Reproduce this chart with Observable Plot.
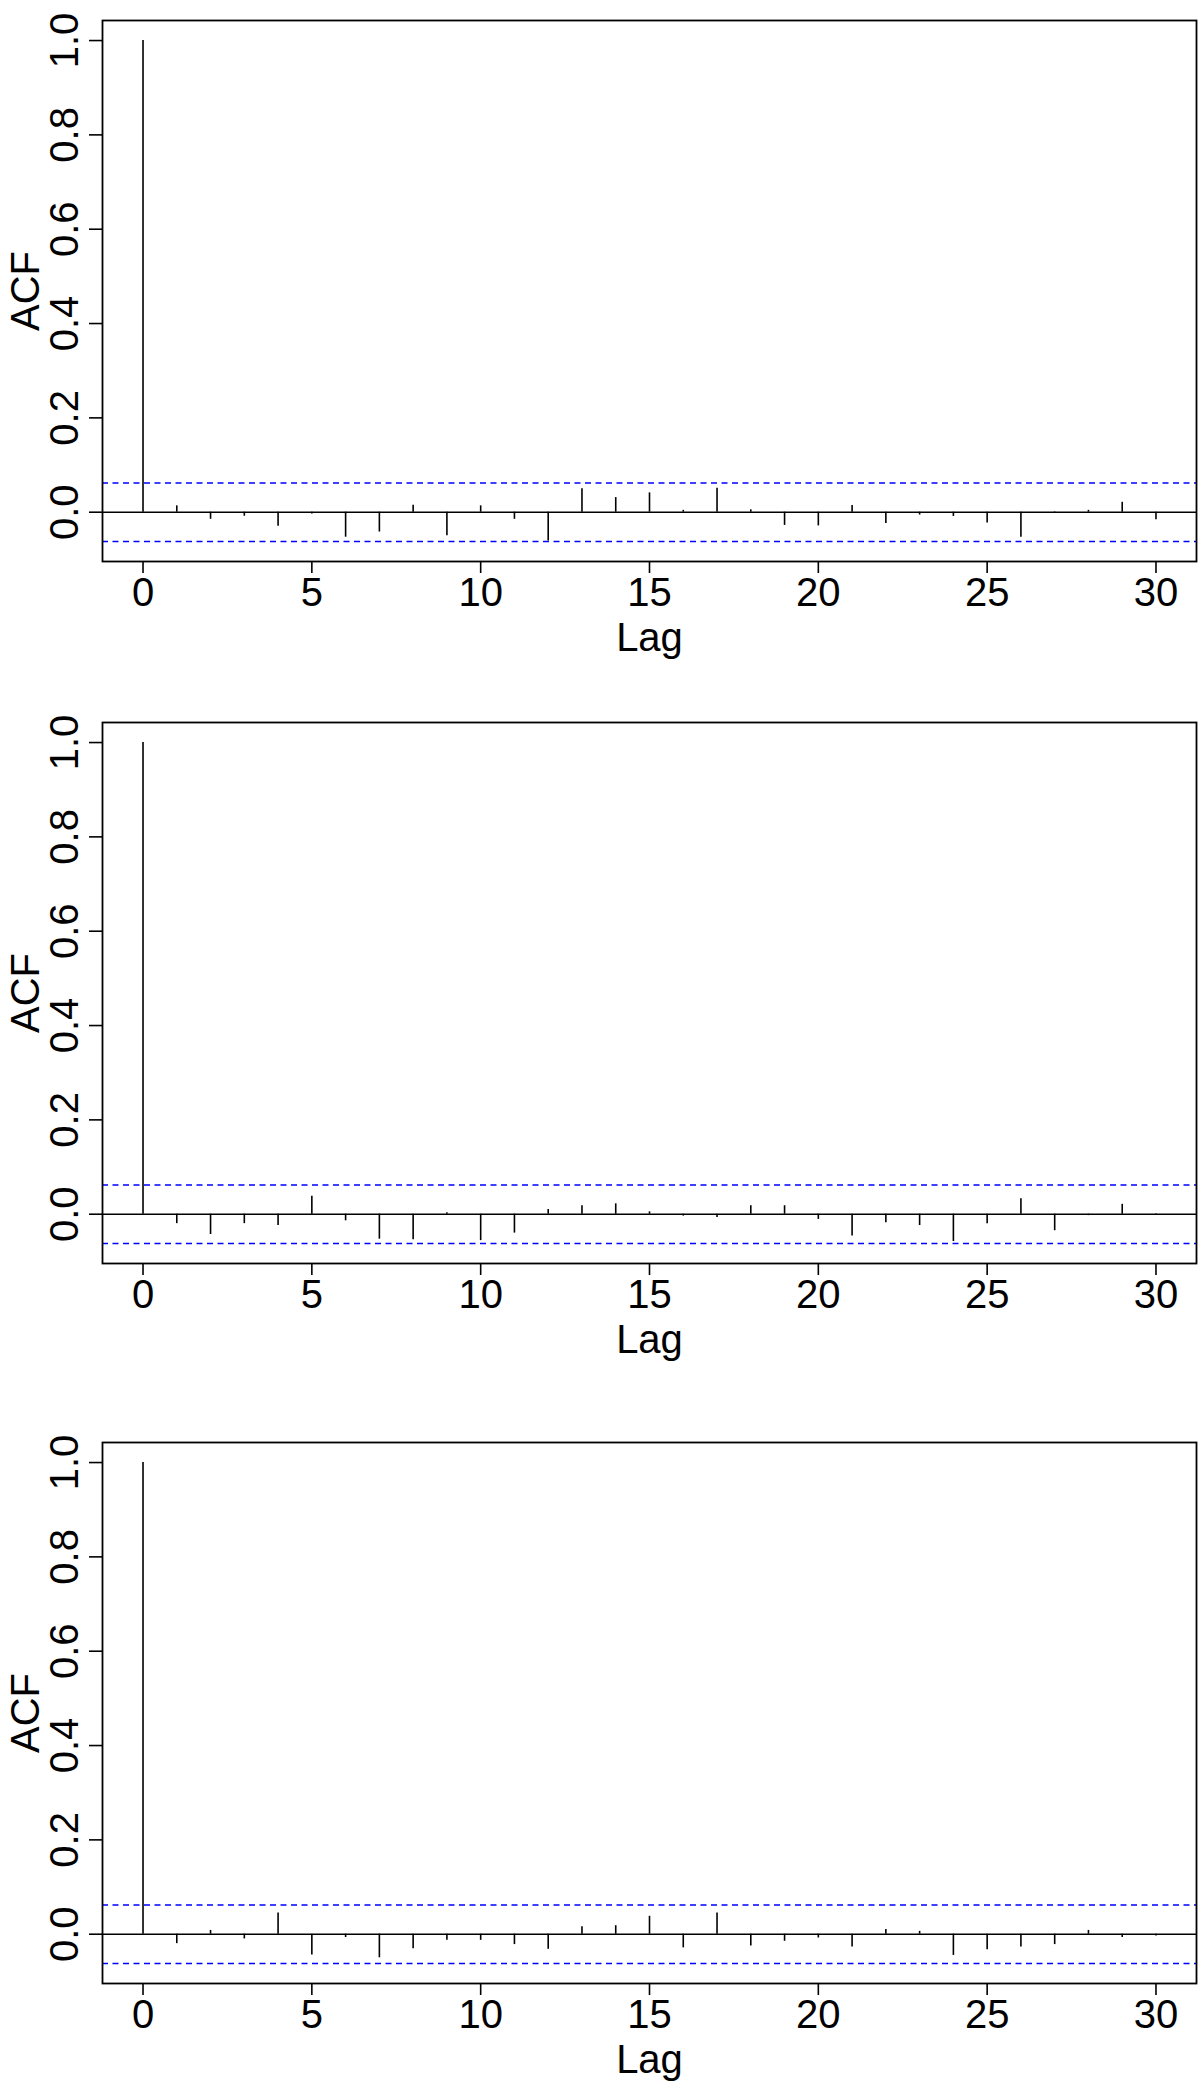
<!DOCTYPE html>
<html>
<head>
<meta charset="utf-8">
<script src="https://cdn.jsdelivr.net/npm/d3@7"></script>
<script src="https://cdn.jsdelivr.net/npm/@observablehq/plot@0.6"></script>
<style>
  html, body { margin: 0; padding: 0; background: #fff; }
  #chart svg { display: block; }
</style>
</head>
<body>
<div id="chart"></div>
<script>
// Lags shown on the x axis
const lags = d3.range(0, 31);

// Autocorrelation values
const acf1 = [1, 0.0135, -0.015, -0.0086, -0.030, -0.004, -0.053, -0.042, 0.015, -0.050,
  0.0135, -0.015, -0.061, 0.050, 0.031, 0.041, 0.004, 0.051, 0.005, -0.028,
  -0.029, 0.014, -0.024, -0.006, -0.009, -0.023, -0.053, 0.001, 0.004, 0.021, -0.016];
const acf2 = [1, -0.020, -0.043, -0.020, -0.024, 0.038, -0.014, -0.053, -0.054, 0.003,
  -0.056, -0.040, 0.010, 0.018, 0.022, 0.005, -0.004, -0.007, 0.018, 0.018,
  -0.011, -0.046, -0.018, -0.024, -0.058, -0.020, 0.033, -0.035, -0.003, 0.021, 0.001];
const acf3 = [1, -0.020, 0.008, -0.010, 0.045, -0.044, -0.007, -0.050, -0.031, -0.013,
  -0.013, -0.022, -0.032, 0.016, 0.018, 0.038, -0.029, 0.045, -0.025, -0.015,
  -0.008, -0.027, 0.010, 0.006, -0.045, -0.033, -0.027, -0.022, 0.008, -0.007, -0.004];

// Confidence bound (dashed blue lines)
const clim = 0.062;

// Axis ticks
const xTicks = [0, 5, 10, 15, 20, 25, 30];
const yTicks = [0, 0.2, 0.4, 0.6, 0.8, 1.0];
const xDomain = [-1.2, 31.2];
const yDomain = [-0.1045, 1.0425];

const font = "'Liberation Sans', Arial, Helvetica, sans-serif";

function panel(acf, height, marginTop, marginBottom) {
  const data = lags.map((lag, i) => ({lag, acf: acf[i]}));
  return Plot.plot({
    width: 1200,
    height,
    marginLeft: 102,
    marginRight: 4,
    marginTop,
    marginBottom,
    style: {fontFamily: font, fontSize: "40px", background: "white", color: "black", overflow: "visible"},
    x: {domain: xDomain},
    y: {domain: yDomain},
    marks: [
      Plot.ruleY([-clim, clim], {stroke: "#0000ff", strokeWidth: 1.6, strokeDasharray: "6,4.5"}),
      Plot.ruleY([0], {stroke: "black", strokeWidth: 1.6}),
      Plot.ruleX(data, {x: "lag", y1: 0, y2: "acf", stroke: "black", strokeWidth: 1.6}),
      Plot.frame({stroke: "black", strokeWidth: 1.8}),
      Plot.axisX({ticks: xTicks, tickSize: 12, tickPadding: 4, strokeWidth: 1.6,
        label: "Lag", labelAnchor: "center", labelArrow: "none", labelOffset: 89}),
      Plot.axisY({ticks: yTicks, tickSize: 13, tickPadding: 12, strokeWidth: 1.6,
        tickFormat: d3.format(".1f"), tickRotate: -90,
        label: "ACF", labelAnchor: "center", labelArrow: "none", labelOffset: 92})
    ]
  });
}

const chart = document.getElementById("chart");
chart.appendChild(panel(acf1, 701, 20, 140));
chart.appendChild(panel(acf2, 720, 21, 158));
chart.appendChild(panel(acf3, 661, 21, 99));
</script>
</body>
</html>
